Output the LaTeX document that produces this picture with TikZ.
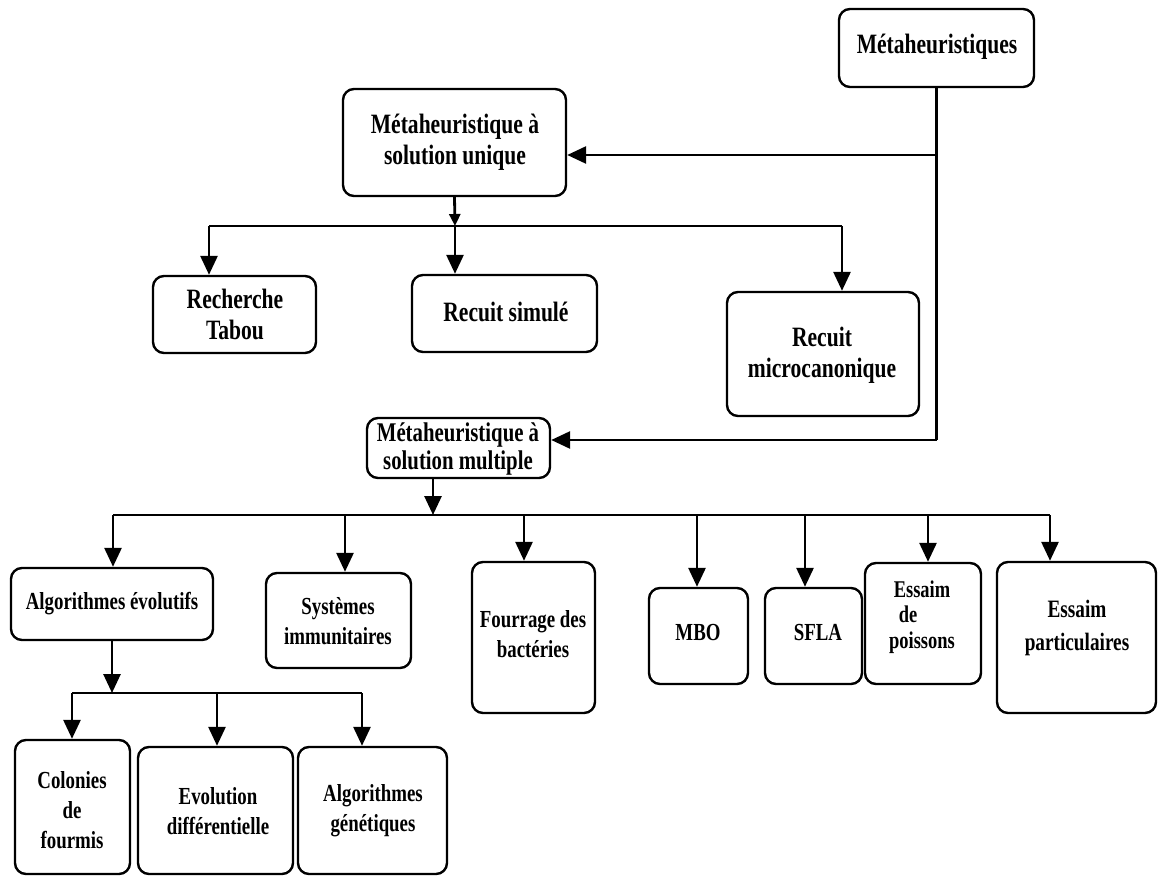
\documentclass[tikz,border=0pt]{standalone}
\usepackage{fontspec}
\newfontfamily\labfont{Liberation Serif}[FakeStretch=0.77]
\usetikzlibrary{arrows.meta}
\begin{document}
\begin{tikzpicture}[x=1pt,y=-1pt,
  box/.style={draw, line width=2.4pt, rounded corners=11pt, inner sep=0pt},
  lab/.style={font=\labfont\bfseries\fontsize{28}{31}\selectfont, align=center, inner sep=0pt},
  labs/.style={font=\labfont\bfseries\fontsize{24.5}{30}\selectfont, align=center, inner sep=0pt},
  link/.style={line width=2.8pt},
  arr/.style={link, -{Triangle[length=19pt,width=17pt]}},
  arrsmall/.style={link, -{Triangle[length=12pt,width=11pt]}}]
\fill[white] (0,0) rectangle (1159,877);
\useasboundingbox (0,0) rectangle (1159,877);

% boxes
\node[box, minimum width=195pt, minimum height=78pt]  (meta)   at (936.5,48) {};
\node[box, minimum width=223pt, minimum height=107pt] (msu)    at (454.5,142.5) {};
\node[box, minimum width=163pt, minimum height=77pt]  (tabou)  at (234.5,314.5) {};
\node[box, minimum width=185pt, minimum height=77pt]  (simule) at (504.5,313.5) {};
\node[box, minimum width=192pt, minimum height=124pt] (micro)  at (823,354) {};
\node[box, minimum width=183pt, minimum height=60pt]  (msm)    at (458.5,448) {};
\node[box, minimum width=202pt, minimum height=72pt]  (evol)   at (112,604) {};
\node[box, minimum width=145pt, minimum height=95pt]  (immun)  at (338.5,620.5) {};
\node[box, minimum width=123pt, minimum height=151pt] (bact)   at (533.5,637.5) {};
\node[box, minimum width=99pt,  minimum height=96pt]  (mbo)    at (698.5,636) {};
\node[box, minimum width=97pt,  minimum height=96pt]  (sfla)   at (813.5,636) {};
\node[box, minimum width=116pt, minimum height=121pt] (poiss)  at (923,623.5) {};
\node[box, minimum width=159pt, minimum height=151pt] (partic) at (1076.5,637.5) {};
\node[box, minimum width=115pt, minimum height=134pt] (colon)  at (72.5,807) {};
\node[box, minimum width=155pt, minimum height=127pt] (evold)  at (215.5,810.5) {};
\node[box, minimum width=149pt, minimum height=127pt] (agen)   at (372.5,810.5) {};

% labels
\node[lab]  (tmeta)   at (937,47)   {Métaheuristiques};
\node[lab]  (tmsu)    at (455,142)  {Métaheuristique à\\solution unique};
\node[lab]  (ttabou)  at (235,314)  {Recherche\\Tabou};
\node[lab]  (tsimule) at (506,312)  {Recuit simulé};
\node[lab]  (tmicro)  at (822,355)  {Recuit\\microcanonique};
\node[lab, font=\labfont\bfseries\fontsize{27}{28}\selectfont] (tmsm) at (458,449) {Métaheuristique à\\solution multiple};
\node[labs] (tevol)   at (112,604)  {Algorithmes évolutifs};
\node[labs] (timmun)  at (338,621)  {Systèmes\\immunitaires};
\node[labs] (tbact)   at (533,634)  {Fourrage des\\bactéries};
\node[labs] (tmbo)    at (698,633)  {MBO};
\node[labs] (tsfla)   at (818,633)  {SFLA};
\node[labs, font=\labfont\bfseries\fontsize{24}{25.5}\selectfont] (tpoiss) at (922,617) {Essaim\\\hspace*{-28pt}de\\poissons};
\node[labs, font=\labfont\bfseries\fontsize{25}{33}\selectfont] (tpartic) at (1077,628) {Essaim\\particulaires};
\node[labs] (tcolon)  at (72,810)   {Colonies\\de\\fourmis};
\node[labs] (tevold)  at (218,811)  {Evolution\\différentielle};
\node[labs] (tagen)   at (373,811)  {Algorithmes\\génétiques};

% trunk from the root
\coordinate (j1) at (936.5,155);
\coordinate (j2) at (936.5,440);
\draw[link] (meta.south) -- (j2);
\draw[arr] (j1) -- (j1 -| msu.east);
\draw[arr] (j2) -- (j2 -| msm.east);

% single-solution branch
\coordinate (ua) at (209,226);
\coordinate (ub) at (455,226);
\coordinate (uc) at (842,226);
\draw[arrsmall] (msu.south) -- (ub);
\draw[link] (ua) -- (uc);
\draw[arr] (ua) -- (ua |- tabou.north);
\draw[arr] (ub) -- (ub |- simule.north);
\draw[arr] (uc) -- (uc |- micro.north);

% multiple-solution branch
\coordinate (bm) at (433,515);
\coordinate (la) at (113,515);
\coordinate (lb) at (345,515);
\coordinate (lc) at (524,515);
\coordinate (ld) at (697,515);
\coordinate (le) at (805,515);
\coordinate (lf) at (928,515);
\coordinate (lg) at (1050,515);
\draw[arr] (bm |- msm.south) -- (bm);
\draw[link] (la) -- (lg);
\draw[arr] (la) -- (la |- evol.north);
\draw[arr] (lb) -- (lb |- immun.north);
\draw[arr] (lc) -- (lc |- bact.north);
\draw[arr] (ld) -- (ld |- mbo.north);
\draw[arr] (le) -- (le |- sfla.north);
\draw[arr] (lf) -- (lf |- poiss.north);
\draw[arr] (lg) -- (lg |- partic.north);

% evolutionary algorithms
\coordinate (ea) at (72,693);
\coordinate (eb) at (112,693);
\coordinate (ec) at (217,693);
\coordinate (ed) at (362,693);
\draw[arr] (evol.south) -- (eb);
\draw[link] (ea) -- (ed);
\draw[arr] (ea) -- (ea |- colon.north);
\draw[arr] (ec) -- (ec |- evold.north);
\draw[arr] (ed) -- (ed |- agen.north);
\end{tikzpicture}
\end{document}
